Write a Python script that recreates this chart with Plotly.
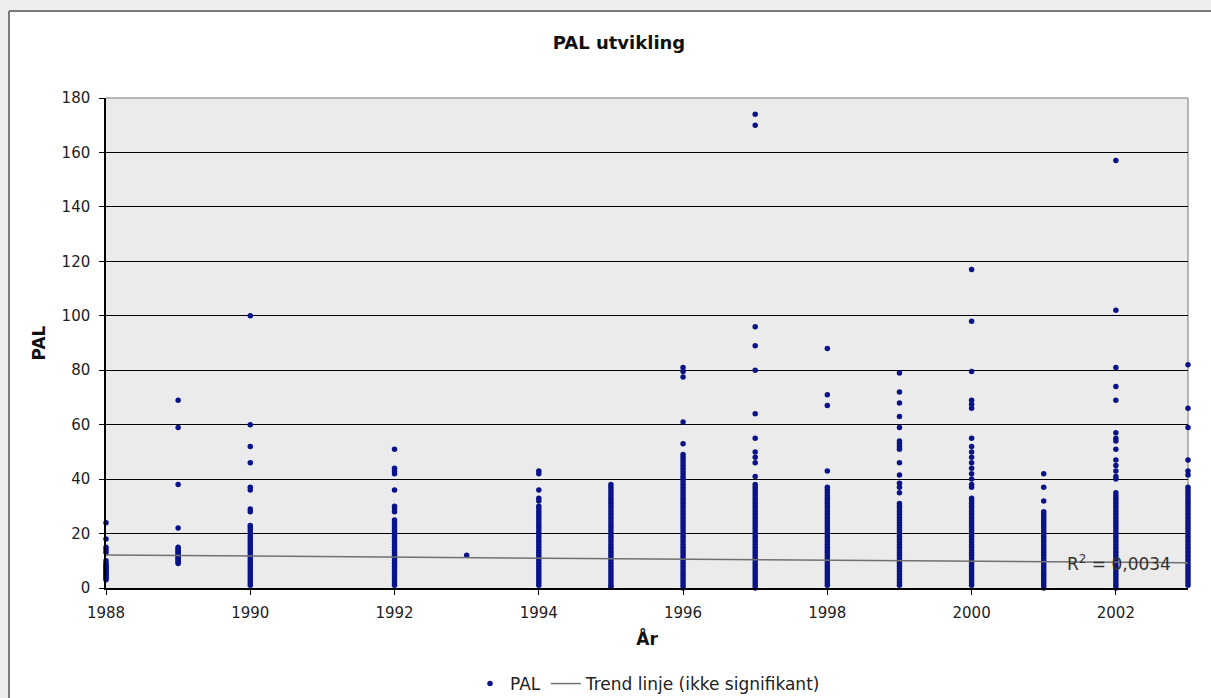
import plotly.graph_objects as go

# ---- data ----
pal_1988 = [24, 18, 15, 14, 13, 10, 9, 8.5, 8, 7.5, 7, 6.5, 6, 5.5, 5, 4.5, 4, 3.5, 3]
pal_1989 = [69, 59, 38, 22, 15, 14.5, 14, 13.5, 13, 12.5, 12, 11.5, 11, 10.5, 10, 9.5, 9]
pal_1990 = [100, 60, 52, 46, 37, 36, 29, 28, 23, 22, 21, 20, 19, 18, 17, 16, 15, 14, 13,
            12, 11, 10, 9, 8, 7, 6, 5, 4, 3, 2, 1]
pal_1992 = [51, 44, 43, 42, 36, 30, 29, 28, 25, 24, 23, 22, 21, 20, 19, 18, 17, 16, 15, 14,
            13, 12, 11, 10, 9, 8, 7, 6, 5, 4, 3, 2, 1]
pal_1993 = [12]
pal_1994 = [43, 42, 36, 33, 32, 30, 29, 28, 27, 26, 25, 24, 23, 22, 21, 20, 19, 18, 17, 16,
            15, 14, 13, 12, 11, 10, 9, 8, 7, 6, 5, 4, 3, 2, 1]
pal_1995 = [38, 37, 36, 35, 34, 33, 32, 31, 30, 29, 28, 27, 26, 25, 24, 23, 22, 21, 20, 19,
            18, 17, 16, 15, 14, 13, 12, 11, 10, 9, 8, 7, 6, 5, 4, 3, 2, 1, 0.5]
pal_1996 = [81, 79.5, 77.5, 61, 53, 49, 48, 47, 46, 45, 44, 43, 42, 41, 40, 39, 38, 37, 36,
            35, 34, 33, 32, 31, 30, 29, 28, 27, 26, 25, 24, 23, 22, 21, 20, 19, 18, 17, 16,
            15, 14, 13, 12, 11, 10, 9, 8, 7, 6, 5, 4, 3, 2, 1, 0]
pal_1997 = [174, 170, 96, 89, 80, 64, 55, 50, 48, 46, 41, 38, 37, 36, 35, 34, 33, 32, 31,
            30, 29, 28, 27, 26, 25, 24, 23, 22, 21, 20, 19, 18, 17, 16, 15, 14, 13, 12, 11,
            10, 9, 8, 7, 6, 5, 4, 3, 2, 1, 0]
pal_1998 = [88, 71, 67, 43, 37, 36, 35, 34, 33, 32, 31, 30, 29, 28, 27, 26, 25, 24, 23, 22,
            21, 20, 19, 18, 17, 16, 15, 14, 13, 12, 11, 10, 9, 8, 7, 6, 5, 4, 3, 2, 1]
pal_1999 = [79, 72, 68, 63, 59, 54, 53, 52, 51, 46, 41.5, 38.5, 37, 35, 31, 30, 29, 28, 27,
            26, 25, 24, 23, 22, 21, 20, 19, 18, 17, 16, 15, 14, 13, 12, 11, 10, 9, 8, 7, 6,
            5, 4, 3, 2, 1]
pal_2000 = [117, 98, 79.5, 69, 67.5, 66, 55, 52, 50, 48, 46, 44, 42, 40, 38, 37, 33, 32, 31,
            30, 29, 28, 27, 26, 25, 24, 23, 22, 21, 20, 19, 18, 17, 16, 15, 14, 13, 12, 11,
            10, 9, 8, 7, 6, 5, 4, 3, 2, 1]
pal_2001 = [42, 37, 32, 28, 27, 26, 25, 24, 23, 22, 21, 20, 19, 18, 17, 16, 15, 14, 13, 12,
            11, 10, 9, 8, 7, 6, 5, 4, 3, 2, 1, 0]
pal_2002 = [157, 102, 81, 74, 69, 57, 55, 54, 51, 47, 45, 43, 41, 40, 35, 34, 33, 32, 31, 30,
            29, 28, 27, 26, 25, 24, 23, 22, 21, 20, 19, 18, 17, 16, 15, 14, 13, 12, 11, 10,
            9, 8, 7, 6, 5, 4, 3, 2, 1, 0]
pal_2003 = [82, 66, 59, 47, 43, 41.5, 37, 36, 35, 34, 33, 32, 31, 30, 29, 28, 27, 26, 25, 24,
            23, 22, 21, 20, 19, 18, 17, 16, 15, 14, 13, 12, 11, 10, 9, 8, 7, 6, 5, 4, 3, 2, 1]

years = [1988, 1989, 1990, 1992, 1993, 1994, 1995, 1996, 1997, 1998, 1999, 2000, 2001, 2002, 2003]
pal_by_year = [pal_1988, pal_1989, pal_1990, pal_1992, pal_1993, pal_1994, pal_1995, pal_1996,
               pal_1997, pal_1998, pal_1999, pal_2000, pal_2001, pal_2002, pal_2003]

trend_x = [1988, 2003]
trend_y = [12.1, 9.3]
r2_text = "R<sup>2</sup> = 0,0034"

x_ticks = [1988, 1990, 1992, 1994, 1996, 1998, 2000, 2002]
y_ticks = [0, 20, 40, 60, 80, 100, 120, 140, 160, 180]

# ---- build ----
xs, ys = [], []
for yr, vals in zip(years, pal_by_year):
    xs += [yr] * len(vals)
    ys += vals

FONT = "DejaVu Sans"
W, H = 1211, 698
L, R, T, B = 106, 23, 98, 110
pw, ph = W - L - R, H - T - B


def px_x(p):
    return (p - L) / pw


def px_y(p):
    return (H - B - p) / ph


fig = go.Figure()
fig.add_trace(go.Scatter(
    x=xs, y=ys, mode="markers", name="PAL",
    marker=dict(color="#0a1488", size=5.5, line=dict(width=0)),
    cliponaxis=False,
))
fig.add_trace(go.Scatter(
    x=trend_x, y=trend_y, mode="lines", name="Trend linje (ikke signifikant)",
    line=dict(color="#707070", width=1.5),
))

shapes = [
    # grey surroundings outside the chart frame
    dict(type="rect", xref="paper", yref="paper", x0=px_x(-5), x1=px_x(W + 5),
         y0=px_y(10), y1=px_y(-5), fillcolor="#eeeeee", line=dict(width=0), layer="below"),
    dict(type="rect", xref="paper", yref="paper", x0=px_x(-5), x1=px_x(8),
         y0=px_y(H + 5), y1=px_y(-5), fillcolor="#eeeeee", line=dict(width=0), layer="below"),
    # frame lines
    dict(type="line", xref="paper", yref="paper", x0=px_x(9), x1=px_x(W + 5),
         y0=px_y(11), y1=px_y(11), line=dict(color="#7a7a7a", width=2)),
    dict(type="line", xref="paper", yref="paper", x0=px_x(9), x1=px_x(9),
         y0=px_y(11), y1=px_y(H + 5), line=dict(color="#7a7a7a", width=2)),
    # plot area top/right border (grey)
    dict(type="line", xref="paper", yref="paper", x0=0, x1=1, y0=1, y1=1,
         line=dict(color="#a0a0a0", width=1.5), layer="between"),
    dict(type="line", xref="paper", yref="paper", x0=1, x1=1, y0=0, y1=1,
         line=dict(color="#a0a0a0", width=1.5), layer="between"),
]

fig.update_layout(
    width=W, height=H,
    margin=dict(l=L, r=R, t=T, b=B, autoexpand=False),
    paper_bgcolor="white",
    plot_bgcolor="#ebebeb",
    font=dict(family=FONT, size=15, color="#222222"),
    title=dict(text="<b>PAL utvikling</b>", x=619 / W, xanchor="center",
               y=1 - 43 / H, yanchor="middle", font=dict(size=18, color="#111111")),
    showlegend=True,
    legend=dict(orientation="h", x=px_x(648), xanchor="center", y=px_y(684), yanchor="middle",
                bgcolor="rgba(0,0,0,0)", font=dict(size=17, color="#222222"),
                itemwidth=30, tracegroupgap=0),
    shapes=shapes,
    annotations=[dict(text=r2_text, x=2001.3, y=9.2, xref="x", yref="y",
                      xanchor="left", yanchor="middle", showarrow=False,
                      font=dict(size=17, color="#333333"))],
)

fig.update_xaxes(
    range=[1988, 2003], tickvals=x_ticks, showgrid=False, zeroline=False,
    showline=True, linecolor="black", linewidth=1.5, mirror=False,
    ticks="outside", ticklen=5, tickcolor="black", ticklabelstandoff=5,
    title=dict(text="<b>År</b>", standoff=12, font=dict(size=17, color="#111111")),
    tickfont=dict(size=15, color="#222222"),
)
fig.update_yaxes(
    range=[0, 180], tickvals=y_ticks, showgrid=True, gridcolor="black", gridwidth=1,
    zeroline=False, showline=True, linecolor="black", linewidth=1.5, mirror=False,
    ticks="outside", ticklen=5, tickcolor="black", ticklabelstandoff=6,
    title=dict(text="<b>PAL</b>", standoff=12, font=dict(size=17, color="#111111")),
    tickfont=dict(size=15, color="#222222"),
)

fig.write_html("out.html", config={"displayModeBar": False},
               post_script="document.body.style.margin='0';")
